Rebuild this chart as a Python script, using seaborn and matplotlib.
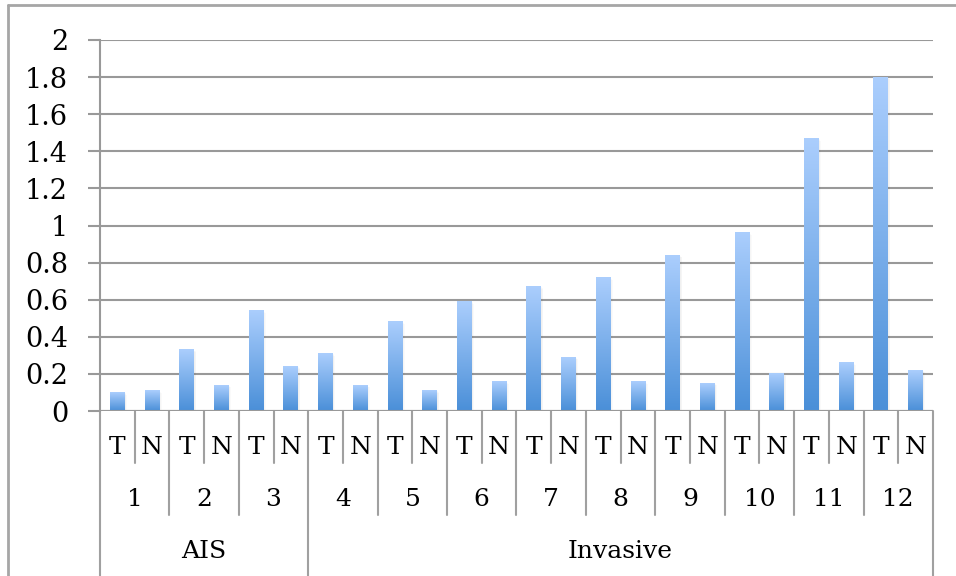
import numpy as np
import pandas as pd
import matplotlib
matplotlib.use("Agg")
import matplotlib.pyplot as plt
import seaborn as sns
from matplotlib.transforms import blended_transform_factory
from matplotlib.colors import LinearSegmentedColormap
from matplotlib.lines import Line2D

# ---- data ----
samples = ["1", "2", "3", "4", "5", "6", "7", "8", "9", "10", "11", "12"]
tissue = ["T", "N"]
groups = ["AIS", "Invasive"]
group_sizes = [3, 9]
t_values = [0.10, 0.33, 0.54, 0.31, 0.48, 0.59, 0.67, 0.72, 0.84, 0.96, 1.47, 1.80]
n_values = [0.11, 0.14, 0.24, 0.14, 0.11, 0.16, 0.29, 0.16, 0.15, 0.20, 0.26, 0.22]
y_ticks = [0, 0.2, 0.4, 0.6, 0.8, 1, 1.2, 1.4, 1.6, 1.8, 2]
y_tick_labels = ["0", "0.2", "0.4", "0.6", "0.8", "1", "1.2", "1.4", "1.6", "1.8", "2"]

rows = []
for s, t, n in zip(samples, t_values, n_values):
    rows.append({"key": s + "T", "value": t})
    rows.append({"key": s + "N", "value": n})
df = pd.DataFrame(rows)

sns.set_theme(style="white")
plt.rcParams["font.family"] = ["DejaVu Serif"]

W, H = 956, 576
fig = plt.figure(figsize=(W / 100, H / 100), dpi=100)
ax = fig.add_axes([100 / W, 1 - 411 / H, (933 - 100) / W, (411 - 40) / H])

sns.barplot(data=df, x="key", y="value", ax=ax, width=0.43, color="#6fa8e8",
            saturation=1, errorbar=None)

ax.set_xlim(-0.5, len(df) - 0.5)
ax.set_ylim(0, 2)
ax.set_xlabel("")
ax.set_ylabel("")
ax.set_xticks([])
ax.set_yticks(y_ticks)
ax.set_yticklabels(y_tick_labels, fontsize=19.5, color="black")
ax.tick_params(axis="y", length=9, width=1.5, color="#999999", pad=14, left=True)
for sp in ["top", "right", "bottom"]:
    ax.spines[sp].set_visible(False)
ax.spines["left"].set_color("#999999")
ax.spines["left"].set_linewidth(1.5)
ax.grid(axis="y", color="#999999", linewidth=1.5)
ax.set_axisbelow(True)
ax.axhline(0, color="#999999", lw=1.5, zorder=3)

# gradient fill of bars
cmap = LinearSegmentedColormap.from_list("g", ["#4a8fd8", "#abcefd"])
grad = np.linspace(0, 1, 256).reshape(-1, 1)
for p in list(ax.patches):
    x0 = p.get_x()
    w = p.get_width()
    h = p.get_height()
    # very soft shadow
    for k in range(1, 4):
        sh = plt.Rectangle((x0 + 0.02 * k, 0), w, max(h - 0.004 * k, 0),
                           color="black", alpha=0.018, lw=0, zorder=1.5)
        ax.add_patch(sh)
    p.set_alpha(0)
    ax.imshow(grad, extent=[x0, x0 + w, 0, h], origin="lower", cmap=cmap,
              aspect="auto", zorder=2, interpolation="bilinear")
ax.set_xlim(-0.5, len(df) - 0.5)
ax.set_ylim(0, 2)

# multi-level category axis
tr = blended_transform_factory(ax.transData, fig.transFigure)
def fy(p):
    return 1 - p / H

sep_col = "#a0a0a0"
n_bars = len(df)
group_edges = np.cumsum([0] + [2 * g for g in group_sizes])
for i in range(n_bars + 1):
    if i in group_edges:
        bottom = 576
    elif i % 2 == 0:
        bottom = 515
    else:
        bottom = 463
    ax.add_line(Line2D([i - 0.5, i - 0.5], [fy(411), fy(bottom)], transform=tr,
                       color=sep_col, lw=1.5, clip_on=False))

for i, key in enumerate(df["key"]):
    ax.text(i, fy(448), key[-1], transform=tr, ha="center", va="center",
            fontsize=18, color="black")
for j, s in enumerate(samples):
    ax.text(2 * j + 0.5, fy(500), s, transform=tr, ha="center", va="center",
            fontsize=18, color="black")
for g, a, b in zip(groups, group_edges[:-1], group_edges[1:]):
    ax.text((a + b - 1) / 2, fy(552), g, transform=tr, ha="center", va="center",
            fontsize=18, color="black")

# outer chart border
fig.add_artist(Line2D([8 / W, 8 / W], [0, 1 - 5 / H], transform=fig.transFigure,
                      color="#a6a6a6", lw=2))
fig.add_artist(Line2D([8 / W, 1], [1 - 5 / H, 1 - 5 / H], transform=fig.transFigure,
                      color="#a6a6a6", lw=2))

fig.savefig("out.png", dpi=100)
